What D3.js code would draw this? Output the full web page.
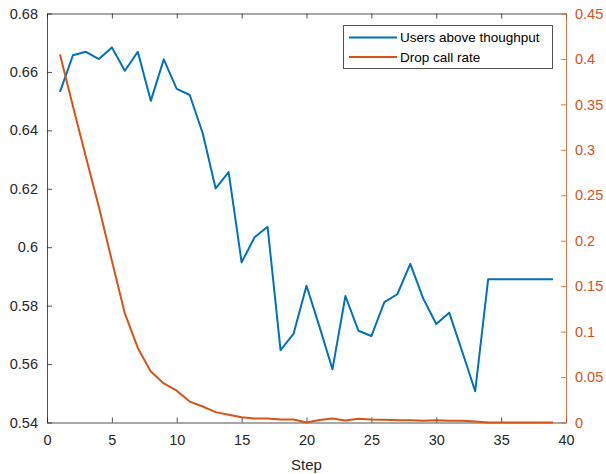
<!DOCTYPE html>
<html>
<head>
<meta charset="utf-8">
<script src="https://cdn.jsdelivr.net/npm/d3@7"></script>
<style>
  body { margin: 0; background: #fff; }
  svg { font-family: "Liberation Sans", Arial, Helvetica, sans-serif; }
</style>
</head>
<body>
<div id="chart"></div>
<script>
// step numbers on the x axis
var steps = d3.range(1, 40);

// users above throughput (left axis)
var usersAbove = [0.6532, 0.6657, 0.6669, 0.6644, 0.6684, 0.6604, 0.6669, 0.6501, 0.6643, 0.6542,
  0.6521, 0.6390, 0.6201, 0.6257, 0.5948, 0.6034, 0.6070, 0.5648, 0.5703, 0.5868,
  0.5728, 0.5582, 0.5833, 0.5714, 0.5696, 0.5812, 0.5839, 0.5943, 0.5824, 0.5737,
  0.5776, 0.5643, 0.5507, 0.5890, 0.5890, 0.5890, 0.5890, 0.5890, 0.5890];

// drop call rate (right axis)
var dropRate = [0.405, 0.348, 0.292, 0.237, 0.178, 0.120, 0.082, 0.056, 0.043, 0.035,
  0.023, 0.0176, 0.0114, 0.0085, 0.0058, 0.0043, 0.0043, 0.0032, 0.0032, 0.0,
  0.0027, 0.0045, 0.0022, 0.0042, 0.0032, 0.003, 0.0025, 0.0025, 0.002, 0.0025,
  0.002, 0.002, 0.001, 0.0, 0.0, 0.0, 0.0, 0.0, 0.0];

var xTicks = [0, 5, 10, 15, 20, 25, 30, 35, 40];
var leftTicks = [0.54, 0.56, 0.58, 0.6, 0.62, 0.64, 0.66, 0.68];
var rightTicks = [0, 0.05, 0.1, 0.15, 0.2, 0.25, 0.3, 0.35, 0.4, 0.45];

var seriesNames = ["Users above thoughput", "Drop call rate"];
var blue = "#0072BD", orange = "#D95319", axisCol = "#262626";

var W = 606, H = 474;
var plotLeft = 47, plotRight = 566, plotTop = 13.5, plotBottom = 422.5;

var svg = d3.select("#chart").append("svg")
  .attr("width", W).attr("height", H);

var x = d3.scaleLinear().domain([0, 40]).range([plotLeft, plotRight]);
var yL = d3.scaleLinear().domain([0.54, 0.68]).range([plotBottom, plotTop]);
var yR = d3.scaleLinear().domain([0, 0.45]).range([plotBottom, plotTop]);

var fmt = function(d) { return String(+d.toFixed(2)); };

// bottom axis, inward ticks
var xAxis = svg.append("g")
  .attr("transform", "translate(0," + plotBottom + ")")
  .call(d3.axisBottom(x).tickValues(xTicks).tickSizeInner(-5).tickSizeOuter(0).tickPadding(12));

// top border with ticks
var topAxis = svg.append("g")
  .attr("transform", "translate(0," + plotTop + ")")
  .call(d3.axisTop(x).tickValues(xTicks).tickSizeInner(-5).tickSizeOuter(0).tickFormat(""));

// left axis
var lAxis = svg.append("g")
  .attr("transform", "translate(" + plotLeft + ",0)")
  .call(d3.axisLeft(yL).tickValues(leftTicks).tickSizeInner(-5).tickSizeOuter(0).tickPadding(9).tickFormat(fmt));

// right axis
var rAxis = svg.append("g")
  .attr("transform", "translate(" + plotRight + ",0)")
  .call(d3.axisRight(yR).tickValues(rightTicks).tickSizeInner(-5).tickSizeOuter(0).tickPadding(9).tickFormat(fmt));

[xAxis, topAxis, lAxis].forEach(function(g) {
  g.selectAll("path, line").attr("stroke", axisCol).attr("stroke-opacity", 0.8);
  g.selectAll("text").attr("fill", axisCol).style("font-size", "14.5px");
});
rAxis.selectAll("path, line").attr("stroke", orange).attr("stroke-opacity", 0.8);
rAxis.selectAll("text").attr("fill", orange).style("font-size", "14.5px");

svg.append("text")
  .attr("x", (plotLeft + plotRight) / 2).attr("y", 470)
  .attr("text-anchor", "middle")
  .attr("fill", axisCol)
  .style("font-size", "15px")
  .text("Step");

var lineL = d3.line()
  .x(function(d, i) { return x(steps[i]); })
  .y(function(d) { return yL(d); });
var lineR = d3.line()
  .x(function(d, i) { return x(steps[i]); })
  .y(function(d) { return yR(d); });

svg.append("path").datum(usersAbove)
  .attr("d", lineL).attr("fill", "none")
  .attr("stroke", blue).attr("stroke-width", 2).attr("stroke-linejoin", "round");

svg.append("path").datum(dropRate)
  .attr("d", lineR).attr("fill", "none")
  .attr("stroke", orange).attr("stroke-width", 2).attr("stroke-linejoin", "round");

// legend
var leg = svg.append("g");
leg.append("rect")
  .attr("x", 343.5).attr("y", 25.5).attr("width", 209).attr("height", 43)
  .attr("fill", "#fff").attr("stroke", axisCol).attr("stroke-opacity", 0.8).attr("stroke-width", 1);
[blue, orange].forEach(function(c, i) {
  var ly = 37.5 + i * 19.5;
  leg.append("line")
    .attr("x1", 349).attr("x2", 397).attr("y1", ly).attr("y2", ly)
    .attr("stroke", c).attr("stroke-width", 2);
  leg.append("text")
    .attr("x", 400).attr("y", ly).attr("dy", "0.35em")
    .attr("fill", "#000")
    .style("font-size", "13.5px")
    .text(seriesNames[i]);
});
</script>
</body>
</html>
